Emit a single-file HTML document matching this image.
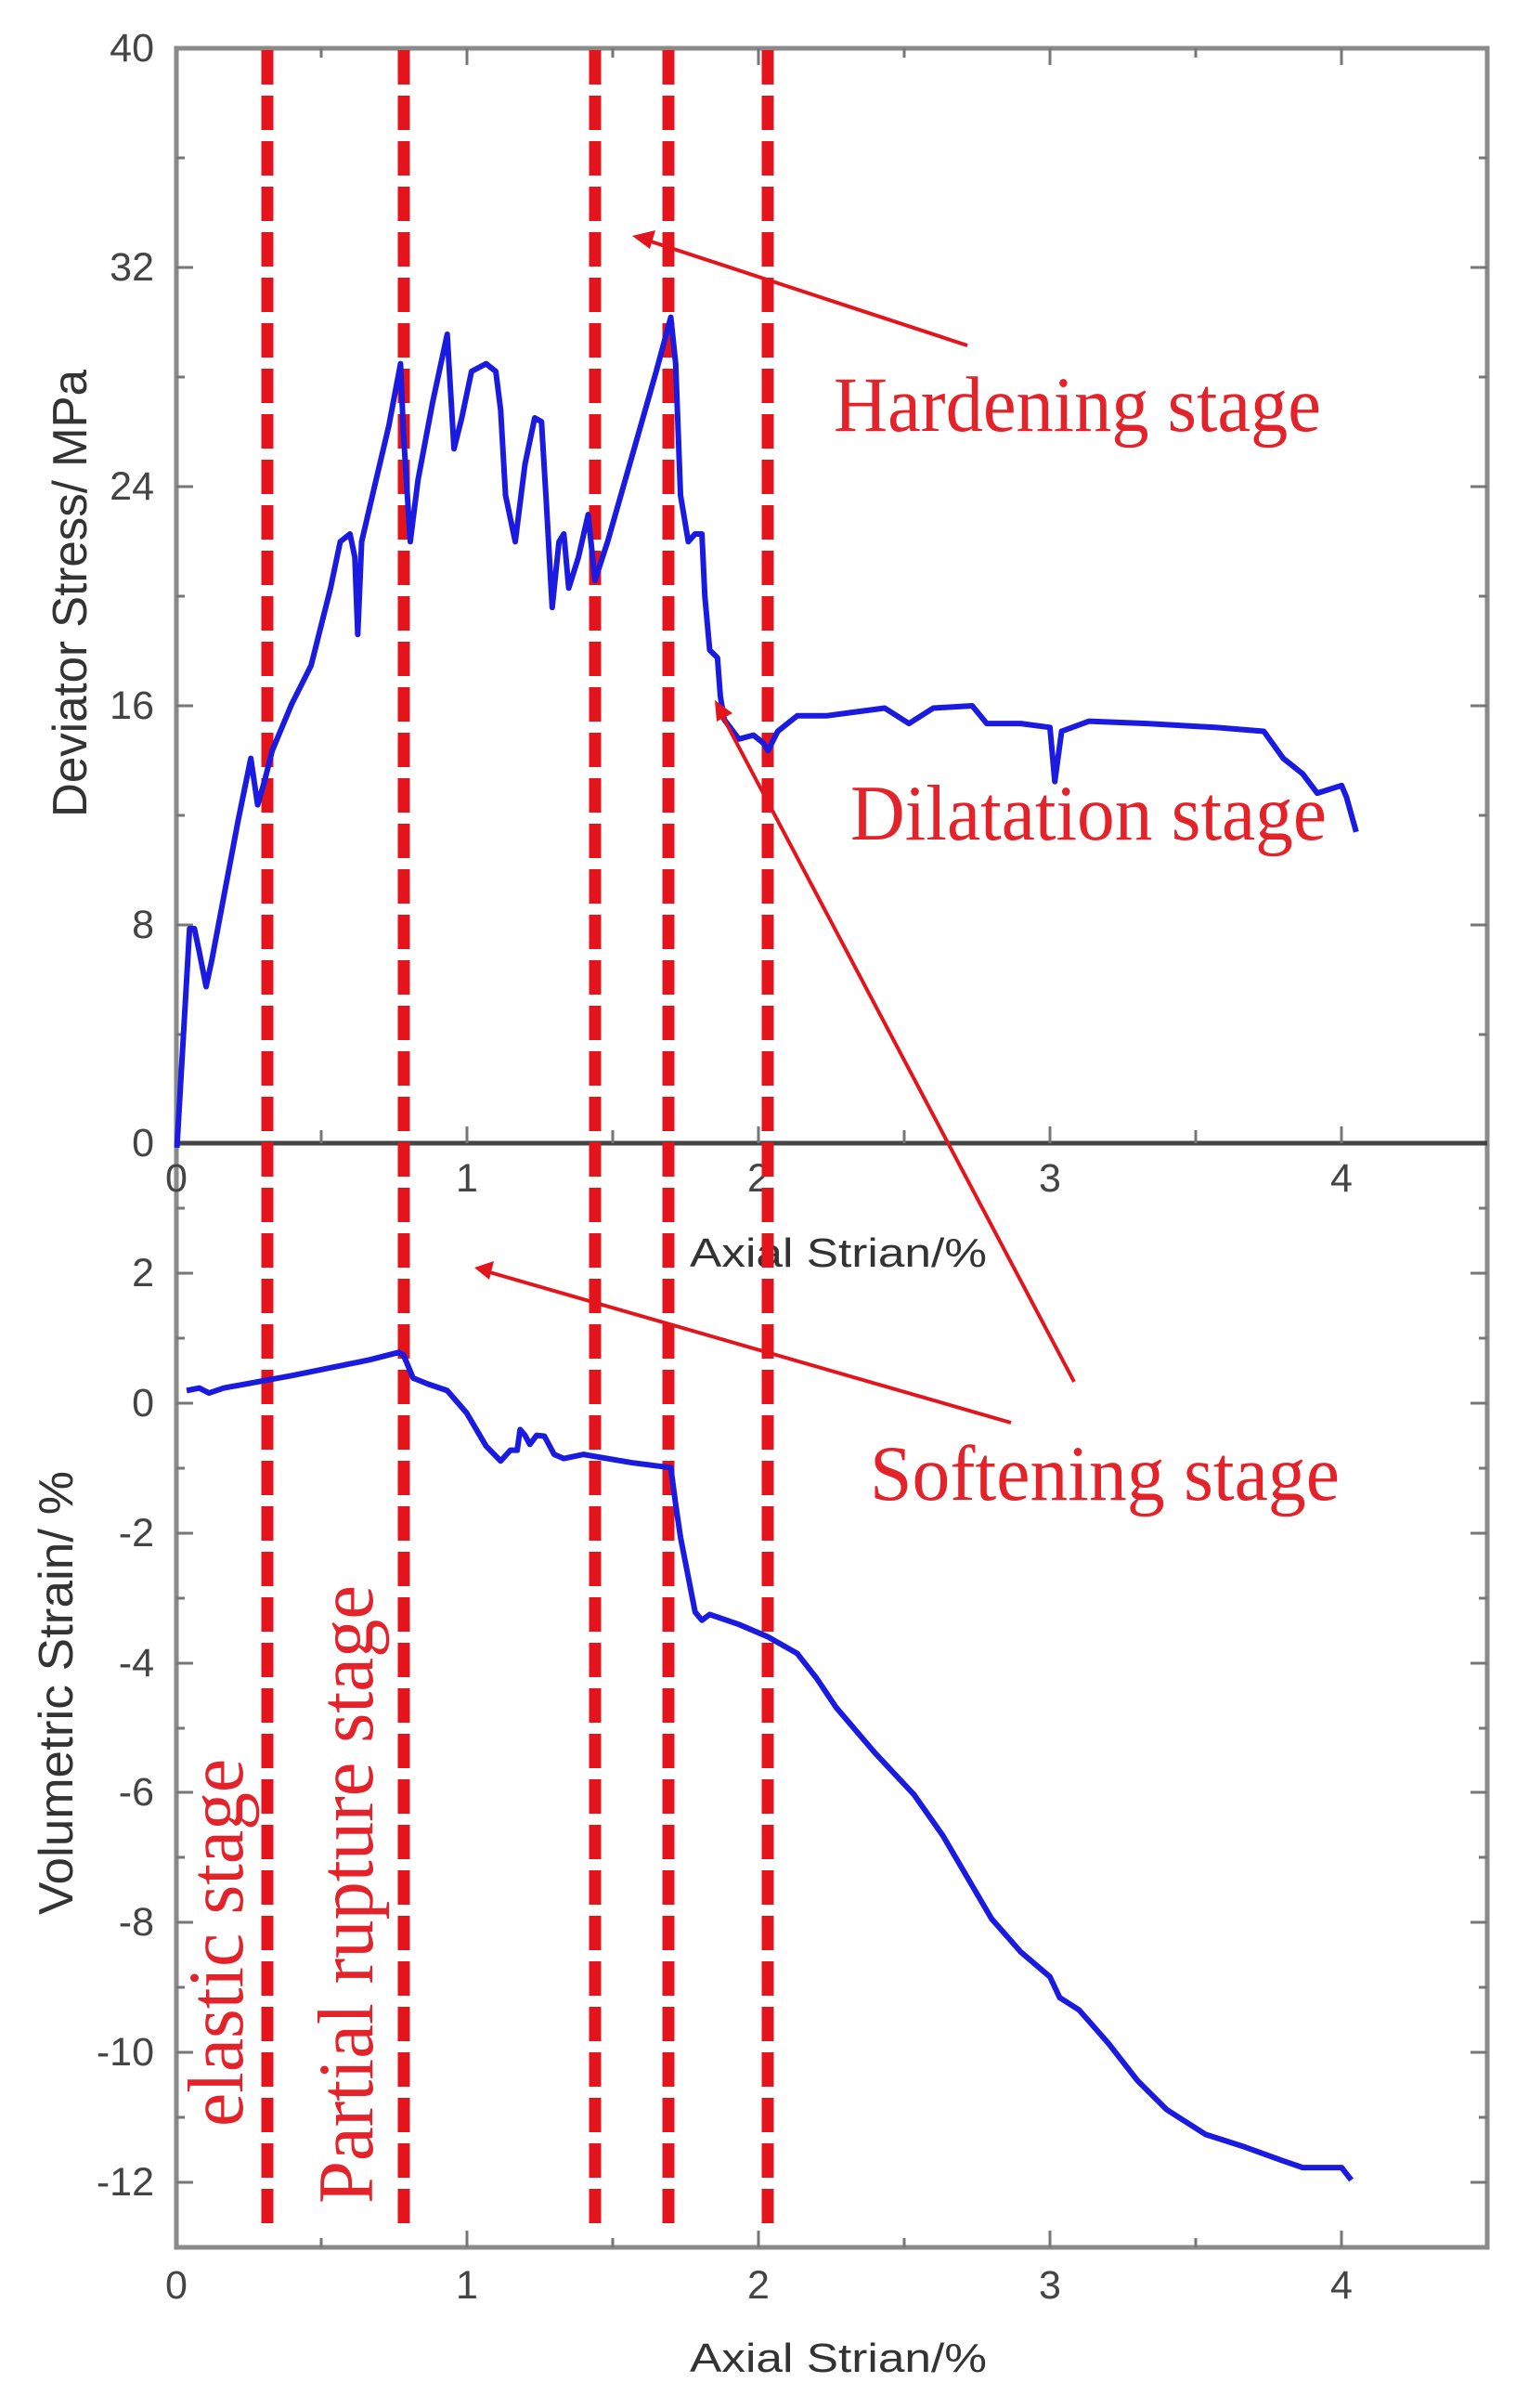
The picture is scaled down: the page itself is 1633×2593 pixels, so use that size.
<!DOCTYPE html>
<html><head><meta charset="utf-8"><style>html,body{margin:0;padding:0;background:#fff}svg{display:block}</style></head>
<body>
<svg width="1633" height="2593" viewBox="0 0 1633 2593" xmlns="http://www.w3.org/2000/svg">
<rect width="1633" height="2593" fill="#fff"/>
<!-- frames -->
<g stroke="#8a8a8a" stroke-width="5" fill="none">
<rect x="190" y="52" width="1412" height="2368"/>
</g>
<line x1="190" y1="1231" x2="1602" y2="1231" stroke="#444" stroke-width="5"/>
<!-- ticks -->
<g stroke="#777" stroke-width="3">
<!-- top plot y ticks major every 8 (236px), minor every 4 -->
<path d="M190 288h18M190 524h18M190 760h18M190 996h18M190 170h9M190 406h9M190 642h9M190 878h9M190 1114h9
M1602 288h-18M1602 524h-18M1602 760h-18M1602 996h-18M1602 170h-9M1602 406h-9M1602 642h-9M1602 878h-9M1602 1114h-9"/>
<!-- bottom plot y ticks -->
<path d="M190 1371h18M190 1511h18M190 1651h18M190 1791h18M190 1930h18M190 2070h18M190 2210h18M190 2350h18
M190 1301h9M190 1441h9M190 1581h9M190 1721h9M190 1861h9M190 2000h9M190 2140h9M190 2280h9
M1602 1371h-18M1602 1511h-18M1602 1651h-18M1602 1791h-18M1602 1930h-18M1602 2070h-18M1602 2210h-18M1602 2350h-18
M1602 1301h-9M1602 1441h-9M1602 1581h-9M1602 1721h-9M1602 1861h-9M1602 2000h-9M1602 2140h-9M1602 2280h-9"/>
<!-- x ticks -->
<path d="M346 1231v-14M503 1231v-18M660 1231v-14M817 1231v-18M974 1231v-14M1131 1231v-18M1288 1231v-14M1445 1231v-18
M346 2420v-10M503 2420v-18M660 2420v-10M817 2420v-18M974 2420v-10M1131 2420v-18M1288 2420v-10M1445 2420v-18
M346 52v10M503 52v18M660 52v10M817 52v18M974 52v10M1131 52v18M1288 52v10M1445 52v18"/>
</g>
<!-- tick labels -->
<g font-family="Liberation Sans, sans-serif" font-size="43" fill="#444" text-anchor="end">
<text x="166" y="66">40</text>
<text x="166" y="302">32</text>
<text x="166" y="538">24</text>
<text x="166" y="774">16</text>
<text x="166" y="1010">8</text>
<text x="166" y="1245">0</text>
<text x="166" y="1385">2</text>
<text x="166" y="1525">0</text>
<text x="166" y="1665">-2</text>
<text x="166" y="1805">-4</text>
<text x="166" y="1944">-6</text>
<text x="166" y="2084">-8</text>
<text x="166" y="2224">-10</text>
<text x="166" y="2364">-12</text>
</g>
<g font-family="Liberation Sans, sans-serif" font-size="43" fill="#444" text-anchor="middle">
<text x="190" y="1283">0</text><text x="503" y="1283">1</text><text x="817" y="1283">2</text><text x="1131" y="1283">3</text><text x="1445" y="1283">4</text>
<text x="190" y="2475">0</text><text x="503" y="2475">1</text><text x="817" y="2475">2</text><text x="1131" y="2475">3</text><text x="1445" y="2475">4</text>
</g>
<g font-family="Liberation Sans, sans-serif" font-size="44" fill="#333">
<text x="743" y="1364" textLength="320" lengthAdjust="spacingAndGlyphs">Axial Strian/%</text>
<text x="743" y="2554" textLength="320" lengthAdjust="spacingAndGlyphs">Axial Strian/%</text>
<text transform="translate(93,880) rotate(-90)" textLength="482" lengthAdjust="spacingAndGlyphs" font-size="52">Deviator Stress/ MPa</text>
<text transform="translate(78,2062) rotate(-90)" textLength="478" lengthAdjust="spacingAndGlyphs" font-size="52">Volumetric Strain/ %</text>
</g>
<!-- red dashed lines -->
<g stroke="#e3141c" stroke-width="13" stroke-dasharray="37 12">
<line x1="288" y1="54" x2="288" y2="2402"/>
<line x1="435" y1="54" x2="435" y2="2402"/>
<line x1="641" y1="54" x2="641" y2="2402"/>
<line x1="720" y1="54" x2="720" y2="2402"/>
<line x1="827" y1="54" x2="827" y2="2402"/>
</g>
<!-- blue curves -->
<g transform="scale(1.0472,0.8333)">
<polyline fill="none" stroke="#1a1ae0" stroke-width="6" vector-effect="non-scaling-stroke" stroke-linejoin="round" points="182,1483 195,1200 200,1200 205,1230 212,1275 218,1240 230,1160 245,1060 258,980 265,1040 272,1010 280,970 300,910 320,860 340,760 350,700 360,690 365,720 368,820 372,700 385,630 400,550 412,470 415,560 422,700 430,620 445,520 460,432 467,580 475,540 485,480 500,470 510,480 515,530 520,640 530,700 540,600 550,540 557,545 562,650 568,785 575,700 580,690 585,760 595,720 605,665 612,750 625,700 650,590 675,480 690,410 695,470 700,640 708,700 715,690 722,690 725,770 730,840 738,850 741,900 745,930 760,955 775,950 785,960 790,970 800,945 820,925 850,925 880,920 910,915 935,935 960,915 1000,912 1015,935 1050,935 1080,940 1085,1010 1092,945 1120,932 1180,935 1250,940 1300,945 1320,980 1340,1000 1355,1025 1380,1015 1385,1030 1395,1075"/>
</g>
<g transform="translate(0,1200) scale(1.0472,0.893)">
<polyline fill="none" stroke="#1a1ae0" stroke-width="6" vector-effect="non-scaling-stroke" stroke-linejoin="round" points="192,333 205,330 215,336 230,330 300,315 380,296 410,287 415,290 425,318 440,325 460,333 480,360 500,400 515,418 525,405 532,405 535,380 540,387 545,398 552,387 560,388 570,410 580,415 600,410 650,420 690,426 695,470 700,510 705,540 710,570 715,600 722,610 730,603 760,615 790,630 820,650 840,680 860,715 900,770 940,820 970,870 1000,930 1020,970 1050,1010 1080,1040 1090,1065 1110,1080 1140,1120 1170,1165 1200,1200 1240,1230 1280,1245 1320,1262 1340,1270 1380,1270 1390,1285"/>
</g>
<!-- arrows -->
<g stroke="#e3141c" stroke-width="4" fill="#e3141c">
<line x1="1042" y1="372" x2="695" y2="258"/>
<polygon points="681,254 706,248 700,268" stroke="none"/>
<line x1="1157" y1="1488" x2="775" y2="765"/>
<polygon points="770,754 789,768 772,777" stroke="none"/>
<line x1="1089" y1="1532" x2="524" y2="1369"/>
<polygon points="511,1365 532,1358 527,1378" stroke="none"/>
</g>
<!-- annotations -->
<g font-family="Liberation Serif, serif" font-size="85" fill="#e3222a">
<text x="898" y="464" textLength="525" lengthAdjust="spacingAndGlyphs">Hardening  stage</text>
<text x="916" y="904" textLength="513" lengthAdjust="spacingAndGlyphs">Dilatation stage</text>
<text x="937" y="1615" textLength="506" lengthAdjust="spacingAndGlyphs">Softening  stage</text>
<text transform="translate(261,2290) rotate(-90)" textLength="396" lengthAdjust="spacingAndGlyphs">elastic  stage</text>
<text transform="translate(401,2373) rotate(-90)" textLength="666" lengthAdjust="spacingAndGlyphs">Partial rupture stage</text>
</g>
</svg>
</body></html>
